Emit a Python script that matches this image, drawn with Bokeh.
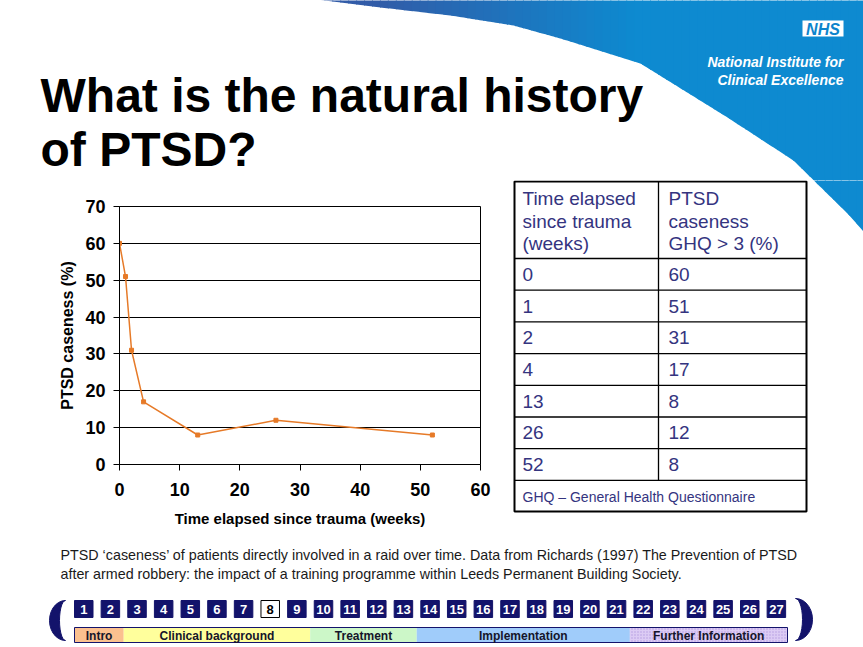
import numpy as np
from bokeh.plotting import figure
from bokeh.layouts import column, row
from bokeh.models import Range1d, FixedTicker
from bokeh.embed import file_html
from bokeh.resources import INLINE
from bokeh.core.properties import value

# ---------------- data ----------------
weeks = [0, 1, 2, 4, 13, 26, 52]
caseness = [60, 51, 31, 17, 8, 12, 8]
x_ticks = [0, 10, 20, 30, 40, 50, 60]
y_ticks = [0, 10, 20, 30, 40, 50, 60, 70]
x_label = "Time elapsed since trauma (weeks)"
y_label = "PTSD caseness (%)"

title_lines = ["What is the natural history", "of PTSD?"]
table_head_left = ["Time elapsed", "since trauma", "(weeks)"]
table_head_right = ["PTSD", "caseness", "GHQ > 3 (%)"]
table_note = "GHQ \u2013 General Health Questionnaire"
caption_lines = [
    "PTSD \u2018caseness\u2019 of patients directly involved in a raid over time. Data from Richards (1997) The Prevention of PTSD",
    "after armed robbery: the impact of a training programme within Leeds Permanent Building Society.",
]
logo_lines = ["National Institute for", "Clinical Excellence"]
nav_numbers = ["1", "2", "3", "4", "5", "6", "7", "8", "9", "10", "11", "12", "13", "14",
               "15", "16", "17", "18", "19", "20", "21", "22", "23", "24", "25", "26", "27"]
current_slide = "8"
sections = ["Intro", "Clinical background", "Treatment", "Implementation", "Further Information"]
section_first = [1, 3, 10, 14, 22]
section_last = [2, 9, 13, 21, 27]
section_colors = ["#fbc08f", "#ffff9c", "#ccf7c8", "#a0ccfa", "#dccbf4"]

FONT = "Liberation Sans"
W, H = 863, 647
NAVY = "#13136b"
TXT_BLUE = "#34347f"

# swoosh boundary (slide pixel coordinates)
sw_x = [300, 380, 450, 513, 560, 640, 727, 793, 847, 880]
sw_y = [-3, 7, 15, 25, 38, 63, 117, 160, 213, 250]


def deco_fig(w, h, x0, y0):
    p = figure(width=w, height=h, x_range=Range1d(x0, x0 + w), y_range=Range1d(y0 + h, y0),
               output_backend="svg", toolbar_location=None, min_border=0,
               x_axis_location=None, y_axis_location=None)
    p.grid.visible = False
    p.outline_line_color = None
    p.background_fill_color = "white"
    p.border_fill_color = "white"
    return p


def swoosh(p):
    edges = np.linspace(300, 872, 73)
    xs, ys, cols = [], [], []
    c0 = np.array([50, 92, 168])
    c1 = np.array([14, 138, 208])
    for a, b in zip(edges[:-1], edges[1:]):
        seg = np.linspace(a, b + 1, 5)
        cy = np.interp(seg, sw_x, sw_y)
        xs.append([a, b + 1] + list(seg[::-1]))
        ys.append([-5, -5] + list(cy[::-1]))
        t = float(np.clip((a - 370) / 260, 0, 1))
        c = (c0 * (1 - t) + c1 * t).astype(int)
        cols.append("#%02x%02x%02x" % tuple(c))
    p.patches(xs, ys, fill_color=cols, line_color=None)


# ---------------- header ----------------
header = deco_fig(W, 180, 0, 0)
swoosh(header)
header.text(x=[40, 40], y=[95, 149], text=title_lines, text_font=value(FONT),
            text_font_style="bold", text_font_size="48px", text_color="black",
            text_baseline="alphabetic", text_align="left")
header.quad(left=[802], right=[843], top=[20], bottom=[36], fill_color="white", line_color=None)
header.text(x=[822.5], y=[28.5], text=["NHS"], text_font=value(FONT), text_font_style="bold italic",
            text_font_size="16px", text_color="#0c84cc", text_baseline="middle", text_align="center")
header.text(x=[843, 843], y=[61, 79], text=logo_lines, text_font=value(FONT),
            text_font_style="bold italic", text_font_size="14px", text_color="white",
            text_baseline="middle", text_align="right")

# ---------------- chart ----------------
chart = figure(width=510, height=360, x_range=Range1d(0, 60), y_range=Range1d(0, 70),
               output_backend="svg", toolbar_location=None,
               min_border_left=119, min_border_right=30, min_border_top=26, min_border_bottom=76)
chart.background_fill_color = "white"
chart.border_fill_color = "white"
chart.outline_line_color = "black"
chart.outline_line_width = 1
chart.xgrid.visible = False
chart.ygrid.grid_line_color = "black"
chart.ygrid.grid_line_width = 1
chart.xaxis.ticker = FixedTicker(ticks=x_ticks)
chart.yaxis.ticker = FixedTicker(ticks=y_ticks)
chart.ygrid.ticker = FixedTicker(ticks=y_ticks)
for ax in (chart.xaxis[0], chart.yaxis[0]):
    ax.axis_line_color = "black"
    ax.major_tick_line_color = "black"
    ax.major_tick_out = 6
    ax.major_tick_in = 0
    ax.minor_tick_line_color = None
    ax.major_label_text_font = FONT
    ax.major_label_text_font_style = "bold"
    ax.major_label_text_font_size = "18px"
    ax.major_label_text_color = "black"
    ax.axis_label_text_font = FONT
    ax.axis_label_text_font_style = "bold"
    ax.axis_label_text_font_size = "15px"
    ax.axis_label_text_color = "black"
chart.yaxis.axis_label_text_font_size = "16px"
chart.xaxis.axis_label = x_label
chart.yaxis.axis_label = y_label
chart.xaxis.major_label_standoff = 12
chart.xaxis.axis_label_standoff = 11
chart.yaxis.major_label_standoff = 8
chart.yaxis.axis_label_standoff = 6
chart.line(weeks, caseness, line_color="#e67a28", line_width=1.5)
chart.scatter(weeks, caseness, marker="square", size=4, fill_color="#e67a28", line_color="#e67a28")

# ---------------- table ----------------
table = deco_fig(353, 360, 510, 180)
swoosh(table)
for f in (chart, table):
    if "frame_align" in f.properties():
        f.frame_align = False
t_left, t_right, t_top, t_bottom = 514, 806, 181, 511
t_div = 658
head_bottom = 258
row_h = 31.7
n = len(weeks)
row_lines = [head_bottom + row_h * i for i in range(n + 1)]
table.quad(left=[t_left], right=[t_right], top=[t_top], bottom=[t_bottom],
           fill_color="white", line_color="black", line_width=2)
table.segment(x0=[t_left] * len(row_lines), x1=[t_right] * len(row_lines),
              y0=row_lines, y1=row_lines, line_color="black", line_width=1.3)
table.segment(x0=[t_div], x1=[t_div], y0=[t_top], y1=[row_lines[-1]], line_color="black", line_width=1.3)
hy = [198, 220.5, 243]
table.text(x=[522] * 3 + [668] * 3, y=hy + hy, text=table_head_left + table_head_right,
           text_font=value(FONT), text_font_size="19px", text_color=TXT_BLUE,
           text_baseline="middle", text_align="left")
cy = [head_bottom + row_h * (i + 0.5) for i in range(n)]
table.text(x=[522] * n + [668] * n, y=cy + cy,
           text=[str(v) for v in weeks] + [str(v) for v in caseness],
           text_font=value(FONT), text_font_size="19px", text_color=TXT_BLUE,
           text_baseline="middle", text_align="left")
table.text(x=[522], y=[(row_lines[-1] + t_bottom) / 2 + 1], text=[table_note],
           text_font=value(FONT), text_font_size="14px", text_color=TXT_BLUE,
           text_baseline="middle", text_align="left")

# ---------------- footer ----------------
footer = deco_fig(W, H - 540, 0, 540)
footer.text(x=[60, 60], y=[554, 573], text=caption_lines, text_font=value(FONT),
            text_font_size="14.3px", text_color="#1a1a1a", text_baseline="middle", text_align="left")

pitch = 26.64
bw = 18.5
lefts = [74 + pitch * i for i in range(len(nav_numbers))]
fills = ["white" if s == current_slide else NAVY for s in nav_numbers]
lines_c = ["black" if s == current_slide else NAVY for s in nav_numbers]
tcols = ["black" if s == current_slide else "white" for s in nav_numbers]
footer.quad(left=lefts, right=[l + bw for l in lefts], top=[600] * len(lefts), bottom=[617] * len(lefts),
            fill_color=fills, line_color=lines_c, line_width=1)
footer.text(x=[l + bw / 2 for l in lefts], y=[609] * len(lefts), text=nav_numbers,
            text_font=value(FONT), text_font_style="bold", text_font_size="13px", text_color=tcols,
            text_baseline="middle", text_align="center")

sec_l, sec_r = [], []
for k, (f, la) in enumerate(zip(section_first, section_last)):
    left = 74 if k == 0 else (lefts[f - 2] + bw + lefts[f - 1]) / 2
    right = 787 if k == len(sections) - 1 else (lefts[la - 1] + bw + lefts[la]) / 2
    sec_l.append(left)
    sec_r.append(right)
footer.quad(left=sec_l, right=sec_r, top=[627] * 5, bottom=[642] * 5, fill_color=section_colors,
            line_color=None)
footer.quad(left=[sec_l[-1]], right=[sec_r[-1]], top=[627], bottom=[642], fill_color=None,
            line_color=None, hatch_pattern="dot", hatch_color="#b49ae0", hatch_scale=3)
footer.quad(left=[74], right=[787], top=[627], bottom=[642], fill_color=None, line_color=NAVY, line_width=1)
footer.text(x=[(a + b) / 2 for a, b in zip(sec_l, sec_r)], y=[635] * 5, text=sections,
            text_font=value(FONT), text_font_style="bold", text_font_size="12px", text_color="#15152a",
            text_baseline="middle", text_align="center")

# chevrons
ang = np.linspace(-np.pi / 2, np.pi / 2, 15)
lx = list(65 - 16 * np.cos(ang)) + list((65 - 6 * np.cos(ang))[::-1])
ly = list(620 + 20 * np.sin(ang)) + list((620 + 20 * np.sin(ang))[::-1])
rx = list(795 + 17 * np.cos(ang)) + list((795 + 7 * np.cos(ang))[::-1])
ry = list(619 + 21 * np.sin(ang)) + list((619 + 21 * np.sin(ang))[::-1])
footer.patches([lx, rx], [ly, ry], fill_color=NAVY, line_color=NAVY)

layout = column(header, row(chart, table), footer)
open("out.html", "w").write(file_html(layout, INLINE))
